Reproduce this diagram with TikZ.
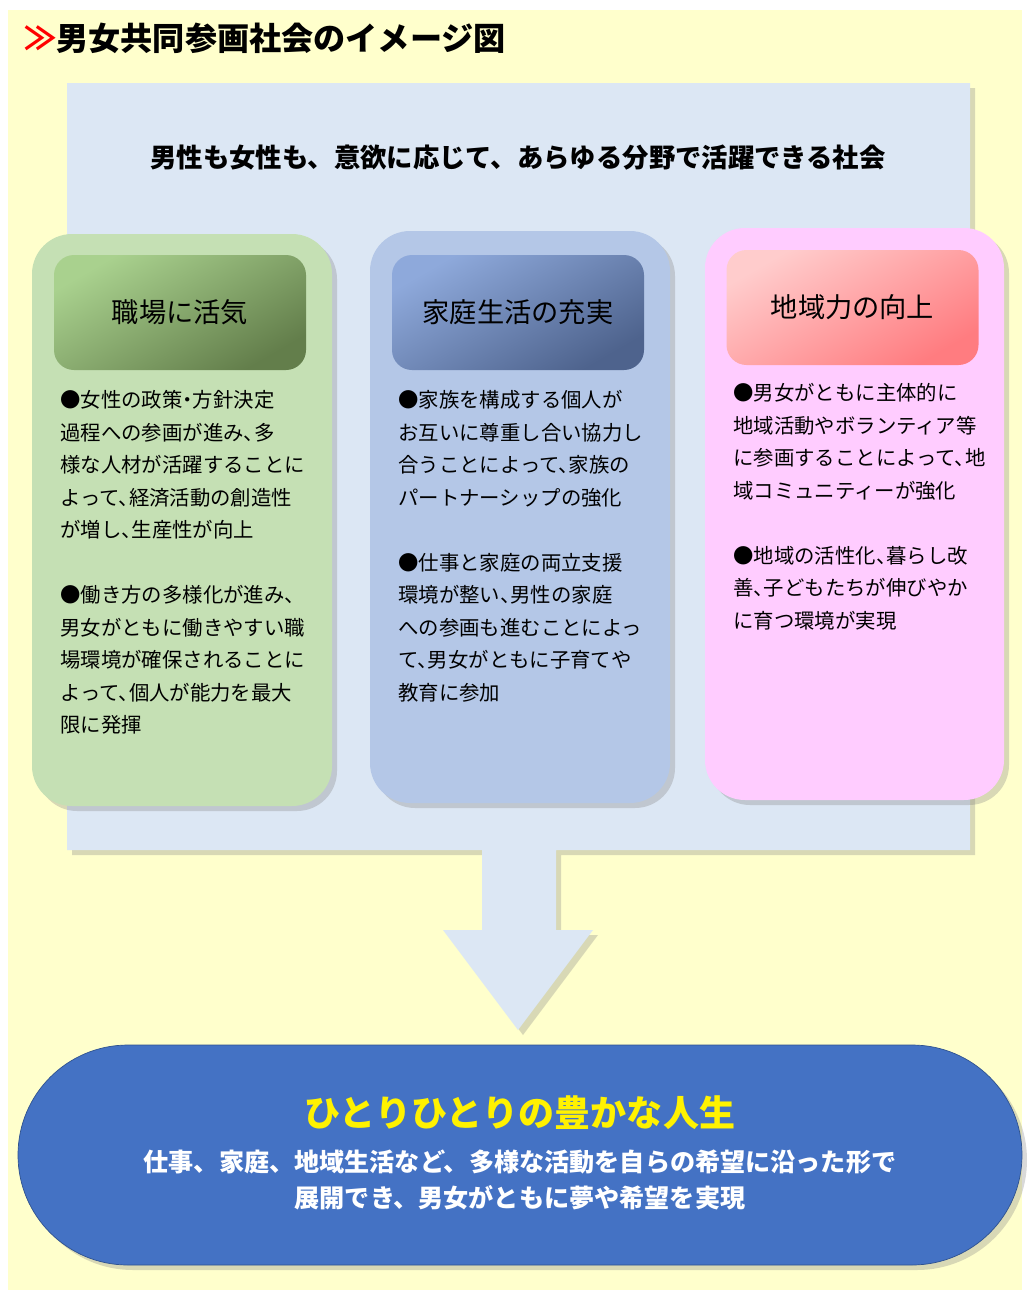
\documentclass[tikz,border=0pt]{standalone}
\usepackage{fontspec}
\setmainfont{Noto Sans CJK JP}
\newfontfamily\halfpunct{Noto Sans CJK JP}[RawFeature=+halt]
\usetikzlibrary{shadows}
\definecolor{bgyellow}{HTML}{FFFFCC}
\definecolor{panelblue}{HTML}{DCE7F4}
\definecolor{cardgreen}{HTML}{C5E0B4}
\definecolor{cardblue}{HTML}{B4C7E7}
\definecolor{cardpink}{HTML}{FFCCFF}
\definecolor{greenlight}{HTML}{A9D18E}
\definecolor{greendark}{HTML}{637E4B}
\definecolor{bluelight}{HTML}{8EA9DB}
\definecolor{bluedark}{HTML}{4E638D}
\definecolor{pinklight}{HTML}{FFCCCC}
\definecolor{pinkdark}{HTML}{FF7C80}
\definecolor{ovalblue}{HTML}{4472C4}
\definecolor{ovalline}{HTML}{2F528F}
\tikzset{
  softshadow/.style={drop shadow={opacity=0.3,shadow xshift=0.1cm,shadow yshift=-0.1cm}},
  card/.style={rounded corners=0.8cm,minimum width=6cm,minimum height=11.44cm,softshadow},
  head/.style={rounded corners=0.4cm,minimum width=5.04cm,minimum height=2.3cm,
    font=\fontsize{15.5}{18}\selectfont},
  body/.style={anchor=north west,align=left,inner sep=0pt,font=\halfpunct\fontsize{11.6}{18.5}\selectfont}
}
\begin{document}
\begin{tikzpicture}
      \useasboundingbox (0,0) rectangle (20.54,-25.86);
      \fill[bgyellow] (0.16,-0.2) rectangle (20.44,-25.8);
      \node[anchor=west,font=\fontsize{18.3}{22}\bfseries\selectfont] at (0.36,-0.76) (T)
        {{\color{red}≫}男女共同参画社会のイメージ図};
      \fill[panelblue,softshadow] (1.34,-1.66) -- (19.4,-1.66) -- (19.4,-17.0) -- (11.12,-17.0)
        -- (11.12,-18.6) -- (11.86,-18.6) -- (10.36,-20.6) -- (8.86,-18.6) -- (9.64,-18.6)
        -- (9.64,-17.0) -- (1.34,-17.0) -- cycle;
      \node[font=\fontsize{15}{18}\bfseries\selectfont] at (10.36,-3.16) (S)
        {男性も女性も、意欲に応じて、あらゆる分野で活躍できる社会};
      \node[card,fill=cardgreen] at (3.64,-10.4) (A) {};
      \node[card,fill=cardblue] at (10.4,-10.34) (B) {};
      \node[card,fill=cardpink,minimum width=5.98cm] at (17.09,-10.28) (C) {};
      \node[head,top color=greenlight,bottom color=greendark,shading angle=30] at (3.6,-6.25) (D) {職場に活気};
      \node[head,top color=bluelight,bottom color=bluedark,shading angle=30] at (10.36,-6.25) (E) {家庭生活の充実};
      \node[head,top color=pinklight,bottom color=pinkdark,shading angle=30] at (17.05,-6.15) (F) {地域力の向上};
      \node[body] at (1.2,-7.8) (G) {●女性の政策・方針決定\\過程への参画が進み、多\\様な人材が活躍することに\\よって、経済活動の創造性\\が増し、生産性が向上\\[18.5pt]
        ●働き方の多様化が進み、\\男女がともに働きやすい職\\場環境が確保されることに\\よって、個人が能力を最大\\限に発揮};
      \node[body] at (7.96,-7.8) (H) {●家族を構成する個人が\\お互いに尊重し合い協力し\\合うことによって、家族の\\パートナーシップの強化\\[18.5pt]
        ●仕事と家庭の両立支援\\環境が整い、男性の家庭\\への参画も進むことによっ\\て、男女がともに子育てや\\教育に参加};
      \node[body] at (14.66,-7.66) (I) {●男女がともに主体的に\\地域活動やボランティア等\\に参画することによって、地\\域コミュニティーが強化\\[18.5pt]
        ●地域の活性化、暮らし改\\善、子どもたちが伸びやか\\に育つ環境が実現};
      \node[draw=ovalline,fill=ovalblue,rounded corners=2.2cm,minimum width=20.08cm,
        minimum height=4.4cm,softshadow] at (10.4,-23.1) (J) {};
      \node[text=yellow,font=\fontsize{20.5}{24}\bfseries\selectfont] at (10.4,-22.26) (K)
        {ひとりひとりの豊かな人生};
      \node[text=white,align=center,font=\fontsize{14.3}{20.5}\bfseries\selectfont] at (10.4,-23.6) (L)
        {仕事、家庭、地域生活など、多様な活動を自らの希望に沿った形で\\展開でき、男女がともに夢や希望を実現};
    \end{tikzpicture}
\end{document}
